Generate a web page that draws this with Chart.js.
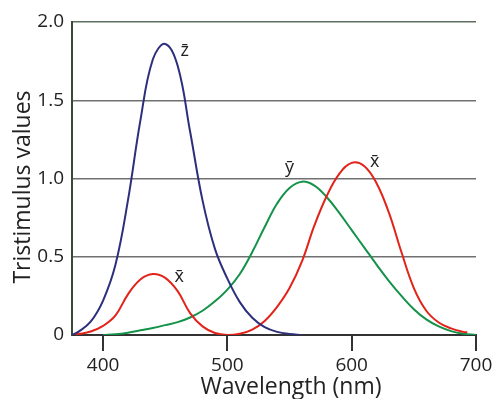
<!DOCTYPE html>
<html>
<head>
<meta charset="utf-8">
<script src="https://cdn.jsdelivr.net/npm/chart.js@4"></script>
<style>
  body { margin: 0; background: #fff; }
  canvas { display: block; }
</style>
</head>
<body>
<canvas id="myChart" width="492" height="399"></canvas>
<script>
// Color matching curves (wavelength in nm -> value)
const zWavelengths = [375, 380, 390, 400, 410, 420, 430, 440, 450, 460, 470, 480, 490, 500, 510, 520, 530, 540, 550, 560];
const zValues = [0, 0.02, 0.085, 0.22, 0.45, 0.86, 1.37, 1.76, 1.86, 1.72, 1.30, 0.86, 0.55, 0.36, 0.21, 0.11, 0.05, 0.02, 0.006, 0];

const xWavelengths = [375, 380, 390, 400, 410, 420, 430, 440, 450, 460, 470, 480, 490, 500, 510, 520, 530, 540, 550, 560, 570, 580, 590, 600, 610, 620, 630, 640, 650, 660, 670, 680, 690, 693];
const xValues = [0, 0.006, 0.022, 0.058, 0.125, 0.26, 0.355, 0.39, 0.365, 0.28, 0.14, 0.055, 0.013, 0, 0.008, 0.035, 0.09, 0.18, 0.30, 0.47, 0.70, 0.89, 1.03, 1.10, 1.08, 0.97, 0.78, 0.53, 0.30, 0.155, 0.08, 0.042, 0.02, 0.017];

const yWavelengths = [400, 410, 420, 430, 440, 450, 460, 470, 480, 490, 500, 510, 520, 530, 540, 550, 560, 570, 580, 590, 600, 610, 620, 630, 640, 650, 660, 670, 680, 690, 700];
const yValues = [0, 0.005, 0.015, 0.03, 0.045, 0.063, 0.082, 0.112, 0.155, 0.215, 0.29, 0.39, 0.53, 0.69, 0.84, 0.94, 0.98, 0.955, 0.88, 0.78, 0.67, 0.56, 0.45, 0.345, 0.25, 0.165, 0.10, 0.055, 0.025, 0.008, 0];

const yTicks = [0, 0.5, 1.0, 1.5, 2.0];

// curve labels: [text, wavelength, value at baseline]
const curveLabels = [
  ['z\u0304', 465.7, 1.783],
  ['y\u0304', 550, 1.035],
  ['x\u0304', 618.5, 1.073],
  ['x\u0304', 461.3, 0.339]
];

const FONT = '"Open Sans", "DejaVu Sans", sans-serif';

const pairs = (xs, ys) => xs.map((x, i) => ({ x: x, y: ys[i] }));

const textPlugin = {
  id: 'textPlugin',
  afterDraw(chart) {
    const c = chart.ctx;
    const xs = chart.scales.x, ys = chart.scales.y;
    c.save();
    c.fillStyle = '#222';
    c.font = '18px ' + FONT;
    c.textAlign = 'center';
    c.textBaseline = 'alphabetic';
    curveLabels.forEach(l => {
      c.fillText(l[0], xs.getPixelForValue(l[1]), ys.getPixelForValue(l[2]));
    });
    // axis titles
    c.font = '23px ' + FONT;
    c.fillText('Wavelength (nm)', 291, 394);
    c.translate(30, 187);
    c.rotate(-Math.PI / 2);
    c.fillText('Tristimulus values', 0, 0);
    c.restore();
  }
};

const ctx = document.getElementById('myChart').getContext('2d');
const chart = new Chart(ctx, {
  type: 'line',
  data: {
    datasets: [
      { data: pairs(zWavelengths, zValues), borderColor: '#2c2f7c' },
      { data: pairs(xWavelengths, xValues), borderColor: '#e2231a' },
      { data: pairs(yWavelengths, yValues), borderColor: '#14924a' }
    ]
  },
  options: {
    responsive: false,
    animation: false,
    devicePixelRatio: 1,
    layout: { padding: { top: 22, right: 16, left: 0, bottom: 0 } },
    elements: {
      point: { radius: 0 },
      line: { borderWidth: 2, tension: 0.4, fill: false }
    },
    plugins: { legend: { display: false }, tooltip: { enabled: false } },
    scales: {
      x: {
        type: 'linear',
        min: 375,
        max: 700,
        afterFit(s) { s.height = 64; s.paddingLeft = 0; s.paddingRight = 0; },
        ticks: {
          stepSize: 100,
          includeBounds: false,
          color: '#222',
          font: { family: FONT, size: 19 },
          padding: 3,
          maxRotation: 0
        },
        grid: { drawOnChartArea: false, drawTicks: true, tickLength: 16, color: '#333', lineWidth: 2 },
        border: { display: true, color: '#333', width: 2 }
      },
      y: {
        min: 0,
        max: 2,
        afterFit(s) { s.width = 72; },
        afterBuildTicks(s) { s.ticks = yTicks.map(v => ({ value: v })); },
        ticks: {
          color: '#222',
          font: { family: FONT, size: 19 },
          padding: 8,
          callback: v => (v === 0 ? '0' : v.toFixed(1))
        },
        grid: {
          drawTicks: false,
          color: c => (c.tick && c.tick.value === 2 ? '#5f6f5f' : '#707070'),
          lineWidth: 1.5
        },
        border: { display: true, color: '#3a4a3a', width: 2 }
      }
    }
  },
  plugins: [textPlugin]
});
</script>
</body>
</html>
